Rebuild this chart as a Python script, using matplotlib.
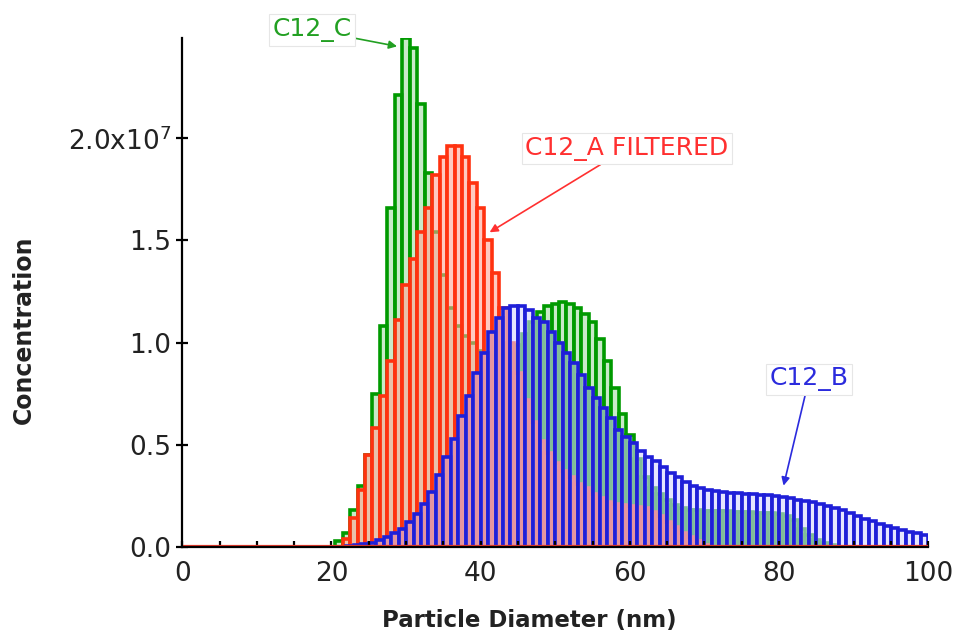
import numpy as np
import matplotlib
matplotlib.use("Agg")
import matplotlib.pyplot as plt
from matplotlib.colors import to_rgba
from matplotlib.ticker import MultipleLocator, FixedLocator, FixedFormatter

# size distributions, 1 nm bins, concentration in units of 1e7
# C12_C and C12_A bins are centred on whole nm, C12_B bins start on whole nm
c12_c = [0.0] * 21 + [
    0.03, 0.07, 0.18, 0.30, 0.45, 0.75, 1.08, 1.66, 2.21,            # 21-29
    2.49, 2.44, 2.17, 1.83, 1.54, 1.33, 1.17, 1.08, 1.03, 1.00,      # 30-39
    0.96, 0.95, 0.94, 0.94, 0.95, 0.99, 1.04, 1.10, 1.15, 1.18,      # 40-49
    1.19, 1.20, 1.19, 1.17, 1.14, 1.10, 1.02, 0.91, 0.78, 0.65,      # 50-59
    0.55, 0.43, 0.34, 0.29, 0.26, 0.23, 0.205, 0.19, 0.18, 0.18,     # 60-69
    0.178, 0.176, 0.175, 0.174, 0.173, 0.172, 0.17, 0.168, 0.166, 0.164,  # 70-79
    0.16, 0.15, 0.13, 0.09, 0.06, 0.035, 0.02, 0.01,                 # 80-87
] + [0.0] * 13

c12_a = [0.0] * 22 + [
    0.04, 0.14, 0.28, 0.45, 0.58, 0.74, 0.91, 1.11,                  # 22-29
    1.28, 1.41, 1.54, 1.66, 1.82, 1.91, 1.96, 1.96, 1.91, 1.78,      # 30-39
    1.66, 1.50, 1.34, 1.17, 1.00, 0.85, 0.72, 0.61, 0.52, 0.46,      # 40-49
    0.41, 0.37, 0.34, 0.31, 0.29, 0.26, 0.24, 0.22, 0.21, 0.205,     # 50-59
    0.20, 0.195, 0.19, 0.17, 0.15, 0.12, 0.10, 0.07, 0.05, 0.03,     # 60-69
    0.01,                                                            # 70
] + [0.0] * 30

c12_b = [0.0] * 22 + [
    0.005, 0.01, 0.015, 0.02, 0.035, 0.05, 0.07, 0.09,               # 22-29
    0.12, 0.16, 0.21, 0.27, 0.35, 0.44, 0.53, 0.64, 0.74, 0.85,      # 30-39
    0.95, 1.05, 1.12, 1.17, 1.18, 1.18, 1.16, 1.12, 1.10, 1.05,      # 40-49
    1.00, 0.95, 0.90, 0.84, 0.78, 0.73, 0.68, 0.63, 0.57, 0.54,      # 50-59
    0.51, 0.47, 0.44, 0.42, 0.39, 0.36, 0.34, 0.32, 0.30, 0.29,      # 60-69
    0.28, 0.275, 0.27, 0.265, 0.262, 0.26, 0.258, 0.255, 0.252, 0.248,  # 70-79
    0.244, 0.238, 0.232, 0.226, 0.22, 0.21, 0.20, 0.19, 0.18, 0.165,    # 80-89
    0.15, 0.137, 0.125, 0.113, 0.102, 0.093, 0.083, 0.074, 0.066, 0.058,  # 90-99
]

scale = 1e7
x_ca = np.arange(len(c12_c)) - 0.5
x_a = np.arange(len(c12_a)) - 0.5
x_b = np.arange(len(c12_b))

fig = plt.figure(figsize=(9.59, 6.36), dpi=100)
ax = fig.add_axes([0.19, 0.14, 0.778, 0.80])

series = [
    (x_ca, c12_c, "#009a00", "#a6dca6"),
    (x_a, c12_a, "#ff3210", "#ffa898"),
    (x_b, c12_b, "#1f1fd8", "#d6d6ff"),
]
for xs, ys, edge, fill in series:
    ax.bar(xs, np.array(ys) * scale, width=1.0, align="edge",
           facecolor=to_rgba(fill, 0.6), edgecolor=edge, linewidth=2.6)

# empty bins still leave their baseline strokes
ax.plot([0, 100], [0.006e7, 0.006e7], color="#ff4020", lw=1.6, zorder=3)
ax.plot([0, 100], [0.0, 0.0], color="#3a1aa0", lw=1.6, zorder=3)

ax.set_xlim(0, 100)
ax.set_ylim(0, 2.49e7)

for side in ("top", "right"):
    ax.spines[side].set_visible(False)
for side in ("left", "bottom"):
    ax.spines[side].set_linewidth(1.6)
    ax.spines[side].set_zorder(5)

ax.xaxis.set_major_locator(MultipleLocator(20))
ax.xaxis.set_minor_locator(MultipleLocator(5))
ax.tick_params(axis="x", which="both", direction="in", length=4, width=1.6,
               labelsize=19, pad=10)
ax.yaxis.set_major_locator(FixedLocator([0, 0.5e7, 1.0e7, 1.5e7, 2.0e7]))
ax.yaxis.set_major_formatter(FixedFormatter(
    ["0.0", "0.5", "1.0", "1.5", r"2.0x10$^{\mathregular{7}}$"]))
ax.tick_params(axis="y", direction="inout", length=8, width=1.6,
               labelsize=19, pad=4)
for lab in ax.get_xticklabels() + ax.get_yticklabels():
    lab.set_color("#222222")

ax.set_xlabel("Particle Diameter (nm)", fontsize=16.5, fontweight="bold",
              color="#222222")
ax.xaxis.set_label_coords(0.465, -0.122)
ax.set_ylabel("Concentration", fontsize=17, fontweight="bold",
              color="#222222")
ax.yaxis.set_label_coords(-0.196, 0.426)

box = dict(boxstyle="square,pad=0.15", fc="white", ec="#e6e6e6", lw=0.8)
notes = [
    ("C12_C", (28.8, 2.45e7), (17.4, 2.53e7), "#22a022"),
    ("C12_A FILTERED", (41.2, 1.54e7), (59.6, 1.95e7), "#ff3030"),
    ("C12_B", (80.6, 0.30e7), (84.0, 0.82e7), "#2b2bdd"),
]
for label, tip, pos, col in notes:
    ax.annotate(label, xy=tip, xytext=pos, ha="center", va="center",
                fontsize=18, color=col, bbox=box, annotation_clip=False,
                arrowprops=dict(arrowstyle="-|>", color=col, lw=1.2,
                                mutation_scale=12, shrinkA=0, shrinkB=0))

fig.savefig("out.png", dpi=100)
